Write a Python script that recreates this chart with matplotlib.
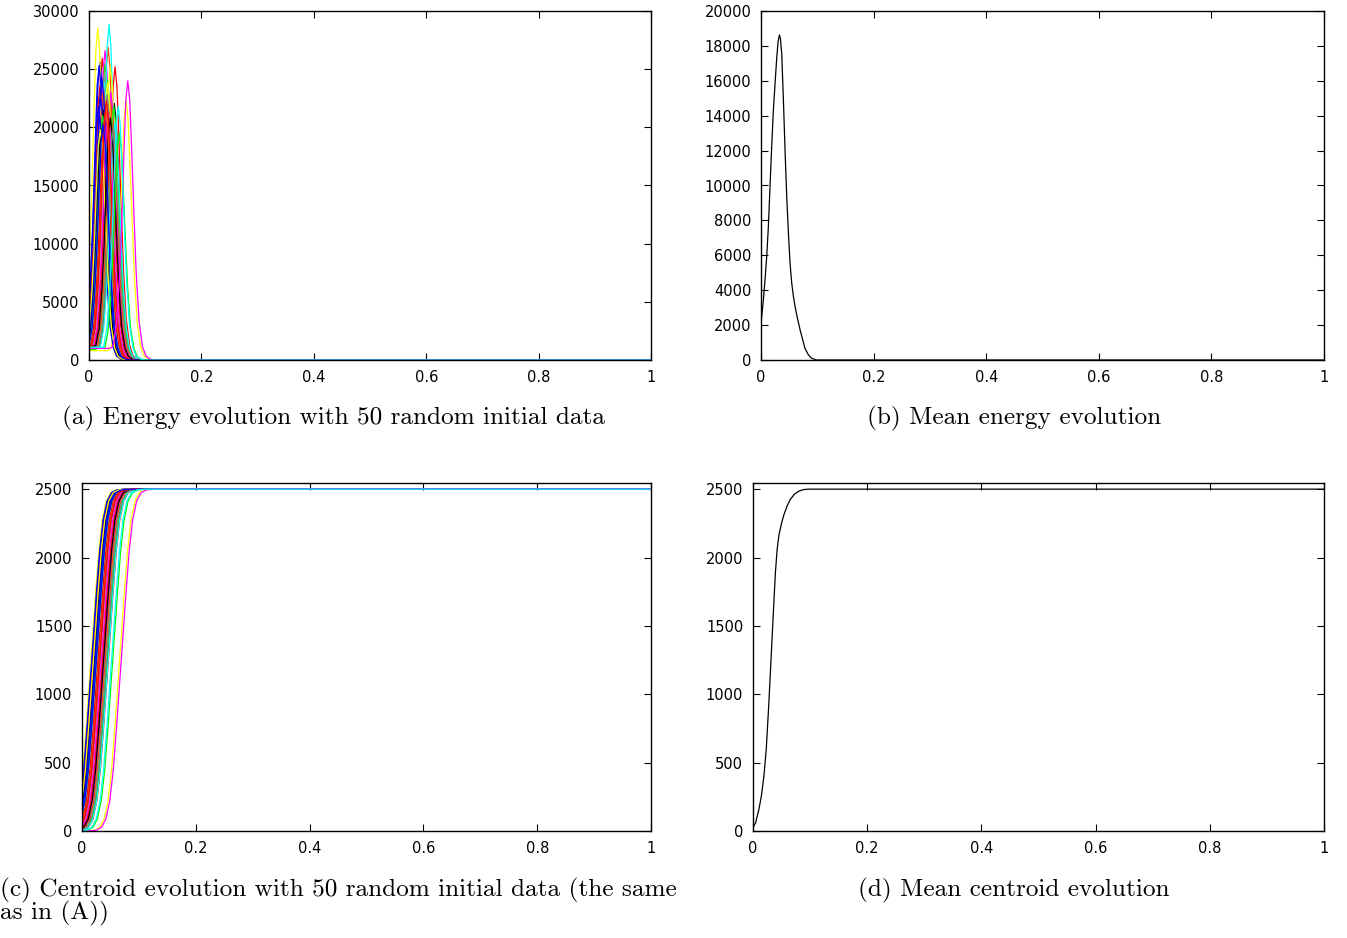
import matplotlib
matplotlib.use('Agg')
import matplotlib.pyplot as plt

# gnuplot postscript line colours, cycled over the 50 runs
colors = ['#ff0000', '#00ff00', '#0000ff', '#ff00ff', '#00ffff',
          '#ffff00', '#000000', '#ff4d00', '#808080']

# peak time and peak energy of each of the 50 runs
peak_t = [0.0237, 0.0285, 0.0196, 0.0285, 0.030, 0.0155, 0.045, 0.034, 0.027, 0.0463,
          0.033, 0.018, 0.022, 0.0356, 0.038, 0.030, 0.025, 0.035, 0.0196, 0.040,
          0.021, 0.031, 0.042, 0.066, 0.026, 0.037, 0.029, 0.036, 0.024, 0.017,
          0.039, 0.027, 0.033, 0.022, 0.041, 0.032, 0.028, 0.044, 0.023, 0.034,
          0.046, 0.020, 0.038, 0.030, 0.043, 0.031, 0.054, 0.025, 0.069, 0.052]
peak_e = [25930, 25500, 25640, 26590, 24800, 28500, 22060, 26880, 22500, 25210,
          24000, 25300, 21000, 28850, 25200, 18330, 23000, 21500, 23490, 20500,
          22500, 19500, 21000, 22300, 21500, 22400, 20000, 22000, 21000, 21800,
          23000, 20500, 23800, 19500, 21500, 22800, 20800, 21800, 24200, 21200,
          20400, 19800, 20800, 21600, 19800, 22300, 19500, 20200, 24000, 21800]
floor_e = [1100, 1000, 1200, 900, 1000, 700, 1300, 1000, 1100, 1200,
           900, 1300, 1000, 1100, 900, 1200, 1000, 900, 1100, 1000,
           1200, 1000, 900, 800, 1100, 1000, 1200, 900, 1000, 1300,
           1000, 1100, 900, 1200, 1000, 1100, 1000, 900, 1200, 1000,
           1100, 1000, 1200, 900, 1000, 1100, 1000, 1200, 1000, 1100]

# shape of a single energy pulse around its peak (magenta run, relative)
pulse_dt = [-0.05, -0.04, -0.032, -0.026, -0.02, -0.015, -0.011, -0.007, -0.0035, 0.0,
            0.0035, 0.007, 0.011, 0.015, 0.02, 0.026, 0.032, 0.04, 0.05]
pulse_rel = [0.0, 0.005, 0.02, 0.05, 0.13, 0.29, 0.48, 0.73, 0.93, 1.0,
             0.93, 0.75, 0.52, 0.31, 0.14, 0.05, 0.015, 0.003, 0.0]

# shape of a single centroid rise around the energy peak (relative to 2500)
rise_dt = [-0.06, -0.045, -0.035, -0.027, -0.02, -0.014, -0.008, -0.003, 0.0,
           0.003, 0.008, 0.014, 0.02, 0.027, 0.035, 0.045, 0.06]
rise_rel = [0.0, 0.002, 0.01, 0.035, 0.09, 0.18, 0.31, 0.43, 0.5,
            0.57, 0.69, 0.82, 0.91, 0.965, 0.99, 0.998, 1.0]
centroid_end = 2500

# mean energy (panel b)
mean_e_t = [0.0, 0.0042, 0.0071, 0.0101, 0.0131, 0.016, 0.019, 0.022, 0.025, 0.0279,
            0.0303, 0.0327, 0.0344, 0.0368, 0.0398, 0.0427, 0.0457, 0.0487, 0.0516,
            0.0546, 0.0576, 0.0606, 0.0647, 0.0695, 0.0742, 0.078, 0.0843, 0.090,
            0.099, 1.0]
mean_e = [2100, 3440, 4580, 5920, 7640, 9930, 12220, 14330, 15860, 17290,
          18240, 18625, 18430, 17575, 14900, 12030, 9360, 7260, 5540,
          4395, 3630, 3055, 2390, 1720, 1146, 670, 290, 100,
          0, 0]

# mean centroid (panel d)
mean_c_t = [0.0, 0.0046, 0.0104, 0.0151, 0.0191, 0.0232, 0.0278, 0.0307, 0.0336,
            0.0365, 0.0394, 0.0423, 0.0452, 0.0499, 0.0539, 0.0597, 0.0655, 0.0725,
            0.08, 0.0887, 0.097, 1.0]
mean_c = [25, 61, 159, 268, 402, 597, 938, 1182, 1426,
          1670, 1900, 2060, 2158, 2250, 2310, 2377, 2426, 2463,
          2485, 2497, 2500, 2500]

xticks = [0, 0.2, 0.4, 0.6, 0.8, 1]
xlabels = ['0', '0.2', '0.4', '0.6', '0.8', '1']

captions = ['(a) Energy evolution with 50 random initial data',
            '(b) Mean energy evolution',
            '(c) Centroid evolution with 50 random initial data (the same',
            'as in (A))',
            '(d) Mean centroid evolution']

fig = plt.figure(figsize=(13.47, 9.38), dpi=100)
W, H = 1347.0, 938.0


def make_ax(l, t, r, b):
    ax = fig.add_axes([l / W, 1 - b / H, (r - l) / W, (b - t) / H])
    for s in ax.spines.values():
        s.set_linewidth(1.0)
    ax.tick_params(direction='in', length=5, width=0.8, top=True, right=True,
                   labelsize=10.5, pad=7)
    ax.set_xlim(0, 1)
    ax.set_xticks(xticks)
    ax.set_xticklabels(xlabels)
    return ax


ax_a = make_ax(89, 11, 651, 360)
ax_b = make_ax(761, 11, 1324, 360)
ax_c = make_ax(82, 483, 651, 831)
ax_d = make_ax(753, 483, 1324, 831)

# panel a: energy of each run
for i in range(len(peak_t)):
    ts = [-0.1]
    es = [floor_e[i]]
    for dt, r in zip(pulse_dt, pulse_rel):
        v = peak_e[i] * r
        if dt < 0:
            v = max(v, floor_e[i])
        ts.append(peak_t[i] + dt)
        es.append(v)
    ts.append(1.0)
    es.append(0)
    ax_a.plot(ts, es, color=colors[i % 9], lw=0.9)
ax_a.set_ylim(0, 30000)
ax_a.set_yticks(range(0, 30001, 5000))

# panel b
ax_b.plot(mean_e_t, mean_e, color='black', lw=0.9)
ax_b.set_ylim(0, 20000)
ax_b.set_yticks(range(0, 20001, 2000))

# panel c: centroid of each run
for i in range(len(peak_t)):
    ts = [-0.1] + [peak_t[i] + dt for dt in rise_dt] + [1.0]
    cs = [0] + [centroid_end * r for r in rise_rel] + [centroid_end]
    ax_c.plot(ts, cs, color=colors[i % 9], lw=0.9)
ax_c.set_ylim(0, 2545)
ax_c.set_yticks(range(0, 2501, 500))

# panel d
ax_d.plot(mean_c_t, mean_c, color='black', lw=0.9)
ax_d.set_ylim(0, 2545)
ax_d.set_yticks(range(0, 2501, 500))

cap = dict(fontsize=18.2, family='cmr10', va='center')
fig.text(334 / W, 1 - 418 / H, captions[0], ha='center', **cap)
fig.text(1014 / W, 1 - 418 / H, captions[1], ha='center', **cap)
fig.text(0.0, 1 - 890 / H, captions[2], ha='left', **cap)
fig.text(0.0, 1 - 913 / H, captions[3], ha='left', **cap)
fig.text(1014 / W, 1 - 890 / H, captions[4], ha='center', **cap)

fig.savefig('out.png', dpi=100)
